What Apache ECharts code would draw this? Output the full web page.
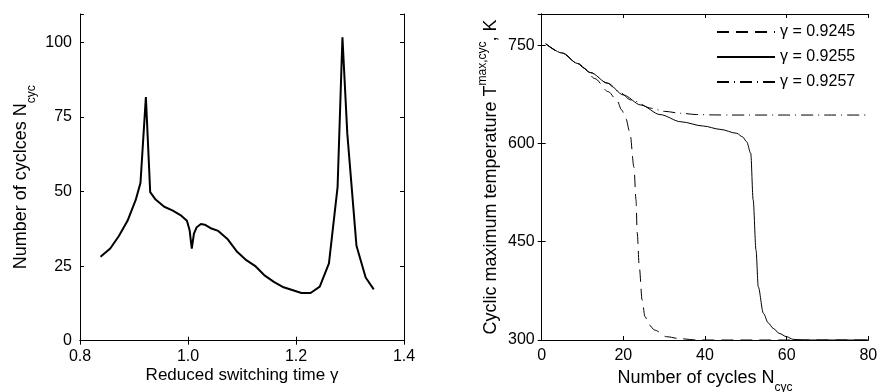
<!DOCTYPE html>
<html>
<head>
<meta charset="utf-8">
<script src="https://cdn.jsdelivr.net/npm/echarts@6/dist/echarts.min.js"></script>
<style>
html,body{margin:0;padding:0;background:#fff;}
#c{width:877px;height:392px;}
</style>
</head>
<body>
<div id="c"></div>
<script>
// Left panel: number of cycles vs reduced switching time
var gammaX = [0.838,0.856,0.872,0.888,0.903,0.912,0.922,0.930,0.940,0.956,0.971,0.986,0.998,1.003,1.007,1.011,1.016,1.024,1.031,1.042,1.056,1.073,1.091,1.108,1.124,1.141,1.159,1.177,1.193,1.210,1.227,1.244,1.261,1.277,1.286,1.295,1.312,1.329,1.344];
var cyclesY = [28.1,30.9,35.1,40.2,47.1,52.9,81.7,49.8,47.3,44.9,43.7,42.1,40.2,37.0,30.9,35.9,38.0,39.1,38.9,37.7,36.8,34.1,29.8,27.0,25.1,22.0,19.7,17.9,17.0,16.0,16.0,18.1,25.9,51.5,101.7,69.4,31.8,21.2,17.2];

// Right panel: cyclic maximum temperature vs number of cycles
var n9245 = [1,5,8.8,10.4,13,16.3,18.4,19.6,20.6,21.6,22.6,23.1,23.4,23.9,24.6,25.3,26.3,27.7,30.6,33.9,38,50,80];
var t9245 = [752,738,722,714.6,699,679,666,651,638,617,564,514,463,412,361,335.6,323,315,305,302,300,300,300];
var n9255 = [1,5,8.8,12,16.1,20,24.3,29,34.1,39.6,43.7,47.8,49.2,50.2,51.2,51.8,52.5,53.05,54.3,55.5,56.7,58.2,60,61.6,64,70,80];
var t9255 = [752,738,722,708,692,674,658.6,644,633,626.5,621.5,615.4,610,602.6,585,513.6,437,381,340.7,326,317.8,310,305,301,300,300,300];
var n9257 = [1,5,8.8,12,16.1,18.6,22,26.9,30,34.1,38,42,46,50,60,70,80];
var t9257 = [752,738,722,708,692,680,666,653.6,649,646,644,643.5,643.3,643.3,643.3,643.3,643.3];

var legendNames = ['\u03b3 = 0.9245', '\u03b3 = 0.9255', '\u03b3 = 0.9257'];
var leftXTicks = [0.8, 1.0, 1.2, 1.4];
var leftYTicks = [0, 25, 50, 75, 100];
var rightXTicks = [0, 20, 40, 60, 80];
var rightYTicks = [300, 450, 600, 750];

function pairs(xs, ys){ return xs.map(function(x,i){ return [x, ys[i]]; }); }

var FONT = "'Liberation Sans', Arial, sans-serif";
var lbl = {color:'#000', fontSize:16, fontFamily:FONT};
var axLine = {show:true, lineStyle:{color:'#000', width:1}};
var tick = {show:true, inside:true, length:4, lineStyle:{color:'#000'}};

function inList(list, v){ for (var i=0;i<list.length;i++){ if (Math.abs(list[i]-v)<1e-6) return true; } return false; }

var chart = echarts.init(document.getElementById('c'), null, {renderer:'canvas'});
chart.setOption({
  animation:false,
  backgroundColor:'#fff',
  textStyle:{fontFamily:FONT},
  grid:[
    {left:80, top:14, width:324, height:326.7, outerBoundsMode:'none', containLabel:false},
    {left:541.7, top:14, width:326.6, height:326, outerBoundsMode:'none', containLabel:false}
  ],
  legend:{
    orient:'vertical', left:711, top:19, itemWidth:58, itemHeight:14, itemGap:9,
    itemStyle:{color:'rgba(0,0,0,0)', borderWidth:0, opacity:0},
    textStyle:{color:'#000', fontSize:16, fontFamily:FONT},
    data:legendNames
  },
  xAxis:[
    {gridIndex:0, type:'value', min:0.8, max:1.4, interval:0.2, position:'bottom',
     axisLine:axLine, axisTick:tick, splitLine:{show:false},
     axisLabel:Object.assign({margin:8, formatter:function(v){ return inList(leftXTicks,v)? v.toFixed(1):''; }}, lbl),
     name:'Reduced switching time \u03b3', nameLocation:'middle', nameGap:26, nameMoveOverlap:false,
     nameTextStyle:{color:'#000', fontSize:17, fontFamily:FONT}},
    {gridIndex:0, type:'value', min:0.8, max:1.4, interval:0.2, position:'top',
     axisLine:axLine, axisTick:tick, splitLine:{show:false}, axisLabel:{show:false}},
    {gridIndex:1, type:'value', min:0, max:80, interval:20, position:'bottom',
     axisLine:axLine, axisTick:tick, splitLine:{show:false},
     axisLabel:Object.assign({margin:8, formatter:function(v){ return inList(rightXTicks,v)? String(v):''; }}, lbl),
     name:'{n|Number of cycles N}{s|cyc}', nameLocation:'middle', nameGap:22, nameMoveOverlap:false,
     nameTextStyle:{color:'#000', fontSize:18, fontFamily:FONT,
       rich:{n:{fontSize:18, lineHeight:32, fontFamily:FONT, color:'#000'},
             s:{fontSize:12, lineHeight:12, verticalAlign:'bottom', fontFamily:FONT, color:'#000'}}}},
    {gridIndex:1, type:'value', min:0, max:80, interval:20, position:'top',
     axisLine:axLine, axisTick:tick, splitLine:{show:false}, axisLabel:{show:false}}
  ],
  yAxis:[
    {gridIndex:0, type:'value', min:0, max:109.5, interval:25, position:'left',
     axisLine:axLine, axisTick:tick, splitLine:{show:false},
     axisLabel:Object.assign({margin:8, formatter:function(v){ return inList(leftYTicks,v)? String(v):''; }}, lbl),
     name:'{n|Number of cyclces N}{s|cyc}', nameLocation:'middle', nameRotate:90, nameGap:42, nameMoveOverlap:false,
     nameTextStyle:{color:'#000', fontSize:18, fontFamily:FONT,
       rich:{n:{fontSize:18, lineHeight:34, fontFamily:FONT, color:'#000'},
             s:{fontSize:12, lineHeight:12, verticalAlign:'bottom', fontFamily:FONT, color:'#000'}}}},
    {gridIndex:0, type:'value', min:0, max:109.5, interval:25, position:'right',
     axisLine:axLine, axisTick:tick, splitLine:{show:false}, axisLabel:{show:false}},
    {gridIndex:1, type:'value', min:300, max:797.5, interval:150, position:'left',
     axisLine:axLine, axisTick:tick, splitLine:{show:false},
     axisLabel:Object.assign({margin:7, formatter:function(v){ return inList(rightYTicks,v)? String(v):''; }}, lbl),
     name:'{n|Cyclic maximum temperature T}{p|max,cyc}{n|, K}', nameLocation:'middle', nameRotate:90, nameGap:37, nameMoveOverlap:false,
     nameTextStyle:{color:'#000', fontSize:18, fontFamily:FONT,
       rich:{n:{fontSize:18, lineHeight:28, fontFamily:FONT, color:'#000'},
             p:{fontSize:12, lineHeight:12, verticalAlign:'top', fontFamily:FONT, color:'#000'}}}},
    {gridIndex:1, type:'value', min:300, max:797.5, interval:150, position:'right',
     axisLine:axLine, axisTick:tick, splitLine:{show:false}, axisLabel:{show:false}}
  ],
  series:[
    {type:'line', xAxisIndex:0, yAxisIndex:0, data:pairs(gammaX, cyclesY), symbol:'none',
     lineStyle:{color:'#000', width:2}, itemStyle:{color:'#000'}, silent:true},
    {name:legendNames[0], type:'line', xAxisIndex:2, yAxisIndex:2, data:pairs(n9245, t9245), symbol:'none',
     smooth:0.3, smoothMonotone:'x',
     lineStyle:{color:'#000', width:1, type:[12,7]}, itemStyle:{color:'#000'}},
    {name:legendNames[1], type:'line', xAxisIndex:2, yAxisIndex:2, data:pairs(n9255, t9255), symbol:'none',
     smooth:0.3, smoothMonotone:'x',
     lineStyle:{color:'#000', width:1, type:'solid'}, itemStyle:{color:'#000'}},
    {name:legendNames[2], type:'line', xAxisIndex:2, yAxisIndex:2, data:pairs(n9257, t9257), symbol:'none',
     smooth:0.3, smoothMonotone:'x',
     lineStyle:{color:'#000', width:1, type:[12,5,1,5]}, itemStyle:{color:'#000'}}
  ]
});
</script>
</body>
</html>
